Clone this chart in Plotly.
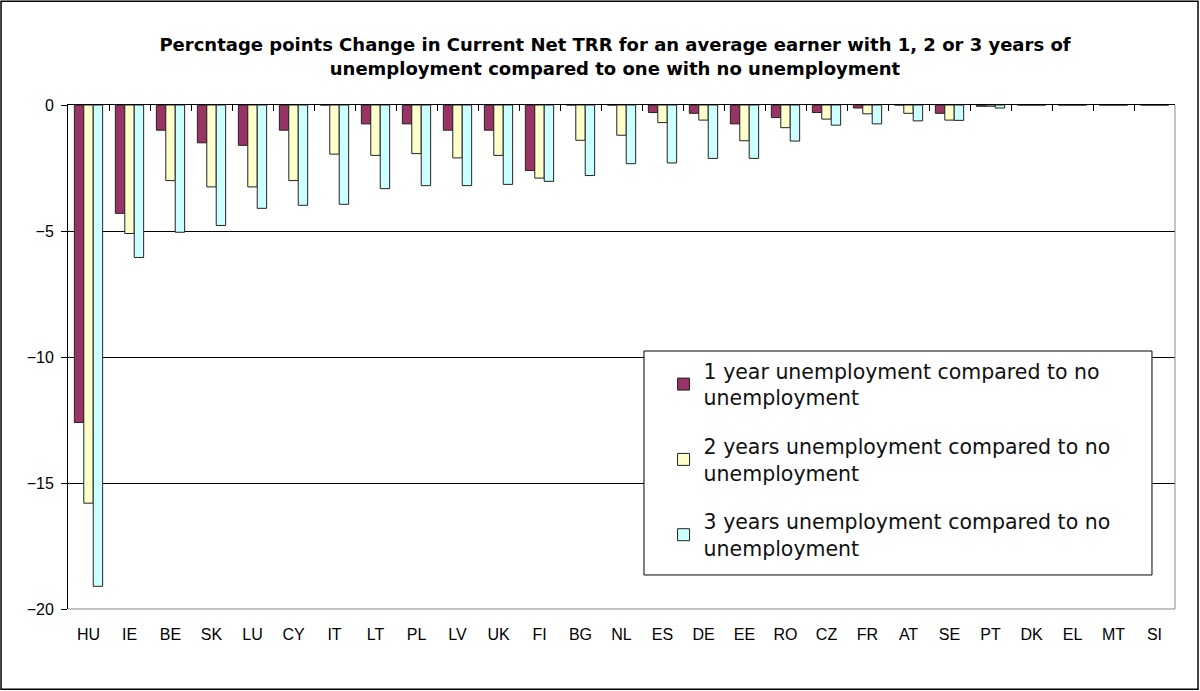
import plotly.graph_objects as go

countries = ['HU', 'IE', 'BE', 'SK', 'LU', 'CY', 'IT', 'LT', 'PL', 'LV', 'UK', 'FI', 'BG', 'NL',
             'ES', 'DE', 'EE', 'RO', 'CZ', 'FR', 'AT', 'SE', 'PT', 'DK', 'EL', 'MT', 'SI']

one_year = [-12.6, -4.3, -1.0, -1.5, -1.6, -1.0, 0, -0.75, -0.75, -1.0, -1.0, -2.6, 0, 0,
            -0.3, -0.33, -0.75, -0.5, -0.3, -0.12, 0, -0.33, -0.05, 0, 0, 0, 0]
two_years = [-15.8, -5.1, -3.0, -3.25, -3.25, -3.0, -1.95, -2.0, -1.93, -2.1, -2.0, -2.9, -1.4, -1.2,
             -0.7, -0.6, -1.42, -0.9, -0.56, -0.35, -0.33, -0.6, -0.05, 0, 0, 0, 0]
three_years = [-19.1, -6.05, -5.05, -4.78, -4.1, -3.98, -3.94, -3.32, -3.2, -3.2, -3.15, -3.03, -2.8, -2.33,
               -2.3, -2.12, -2.12, -1.43, -0.8, -0.75, -0.63, -0.61, -0.12, 0, 0, 0, 0]

series = [
    ('1 year unemployment compared to no<br>unemployment', one_year, '#993366'),
    ('2 years unemployment compared to no<br>unemployment', two_years, '#FFFFCC'),
    ('3 years unemployment compared to no<br>unemployment', three_years, '#CCFFFF'),
]

fig = go.Figure()
for i, (name, vals, col) in enumerate(series):
    fig.add_trace(go.Bar(x=countries, y=vals, name=name, legendgroup=f'g{i}',
                         marker=dict(color=col, line=dict(color='#222222', width=1))))

# invisible trace so the top axis (ticks at y=0) gets drawn
fig.add_trace(go.Scatter(x=[0], y=[0], xaxis='x2', mode='markers',
                         marker=dict(opacity=0), showlegend=False, hoverinfo='skip'))

# plot area pixel box: x 68..1175, y 105..609
fig.update_layout(
    width=1200, height=691,
    margin=dict(l=68, r=25, t=105, b=82, autoexpand=False),
    paper_bgcolor='white', plot_bgcolor='white',
    font=dict(family='Arial, Liberation Sans, sans-serif', color='black'),
    title=dict(text='<b>Percntage points Change in Current Net TRR for an average earner with 1, 2 or 3 years of<br>'
                    'unemployment compared to one with no unemployment</b>',
               x=0.5125, xanchor='center', y=0.926, yanchor='middle',
               font=dict(family='DejaVu Sans', size=18, color='black')),
    barmode='group', bargap=0.31, bargroupgap=0,
    xaxis=dict(showline=False, ticks='', tickfont=dict(size=16), showgrid=False,
               ticklabelstandoff=14),
    xaxis2=dict(overlaying='x', side='top', range=[-0.5, 26.5], anchor='y',
                tickvals=[i + 0.5 for i in range(26)], ticks='inside', ticklen=6,
                tickcolor='black', showticklabels=False, showline=True, linecolor='black',
                linewidth=1, showgrid=False, zeroline=False),
    yaxis=dict(range=[-20, 0], dtick=5, showline=True, linecolor='black', linewidth=1,
               ticks='outside', ticklen=6, tickcolor='black', gridcolor='black', gridwidth=1,
               zeroline=False, tickfont=dict(size=16), ticklabelstandoff=4),
    legend=dict(x=0.538, y=0.512, xanchor='left', yanchor='top', bgcolor='rgba(0,0,0,0)',
                borderwidth=0,
                font=dict(family='DejaVu Sans', size=20.5, color='#111111'),
                tracegroupgap=19),
    showlegend=True,
)

# legend frame (wider than plotly's own legend box)
fig.add_shape(type='rect', xref='paper', yref='paper', layer='above',
              x0=0.5203, x1=0.9792, y0=0.0675, y1=0.5119,
              fillcolor='white', line=dict(color='black', width=1))

# bottom and right plot border (grey), outer chart frame
fig.add_shape(type='line', xref='paper', yref='paper', x0=0, x1=1, y0=0, y1=0,
              line=dict(color='#888888', width=1))
fig.add_shape(type='line', xref='paper', yref='paper', x0=1, x1=1, y0=0, y1=1,
              line=dict(color='#888888', width=1))
fig.add_shape(type='rect', xref='paper', yref='paper',
              x0=-0.0605, x1=1.0208, y0=-0.159, y1=1.206,
              line=dict(color='black', width=1.5))

fig.write_html('out.html', config={'displayModeBar': False},
               post_script="document.body.style.margin='0px';")
